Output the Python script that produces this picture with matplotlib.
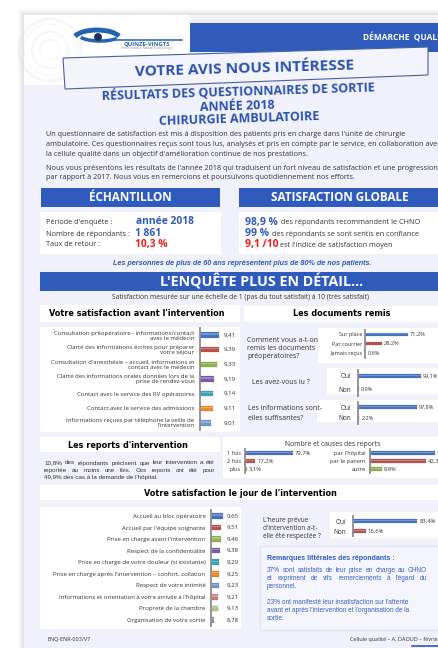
import matplotlib
matplotlib.use('Agg')
import matplotlib.pyplot as plt
from matplotlib.patches import Rectangle, Polygon, Circle, Arc

W, H = 438, 648

avant_labels = ["Consultation préopératoire - informations/contact\navec le médecin",
                "Clarté des informations écrites pour préparer\nvotre séjour",
                "Consultation d'anesthésie – accueil, informations et\ncontact avec le médecin",
                "Clarté des informations orales données lors de la\nprise de rendez-vous",
                "Contact avec le service des RV opératoires",
                "Contact avec le service des admissions",
                "Informations reçues par téléphone la veille de\nl'intervention"]
avant_vals = [9.41, 9.39, 9.33, 9.19, 9.14, 9.11, 9.01]

jour_labels = ["Accueil au bloc opératoire",
               "Accueil par l'équipe soignante",
               "Prise en charge avant l'intervention",
               "Respect de la confidentialité",
               "Prise en charge de votre douleur (si existante)",
               "Prise en charge après l'intervention – confort, collation",
               "Respect de votre intimité",
               "Informations et orientation à votre arrivée à l'hôpital",
               "Propreté de la chambre",
               "Organisation de votre sortie"]
jour_vals = [9.65, 9.51, 9.46, 9.38, 9.29, 9.25, 9.23, 9.21, 9.13, 8.78]

remis_labels = ["Sur place", "Par courrier", "Jamais reçus"]
remis_vals = [71.2, 28.2, 0.6]
oui_non = ["Oui", "Non"]
lu_vals = [99.1, 0.9]
suff_vals = [97.8, 2.2]
heure_vals = [83.4, 16.6]

nb_labels = ["1 fois", "2 fois", "plus"]
nb_vals = [79.7, 17.2, 3.1]
cause_labels = ["par l'hôpital", "par le patient", "autre"]
cause_vals = [49, 42.3, 8.8]

# ---- style ----
BLUE = '#2f5cbc'
TITLE_BLUE = '#2a52ad'
RED = '#ee1c1c'
TEXT = '#333333'
PAGE = '#f1f1fb'
C_BLUE, C_RED, C_GREEN = '#4472c4', '#c0504d', '#8fb54b'
C_PURPLE, C_TEAL, C_ORANGE = '#7a5ba5', '#3aa3bf', '#f28a2a'
C_LBLUE, C_PINK, C_LGREEN, C_LPURPLE = '#6f97d6', '#cf7d7a', '#adc97c', '#9a86c4'

plt.rcParams['font.family'] = ['Open Sans', 'DejaVu Sans']

fig = plt.figure(figsize=(W / 100, H / 100), dpi=100)
fig.patch.set_facecolor('white')
bg = fig.add_axes([0, 0, 1, 1])
bg.set_xlim(0, W)
bg.set_ylim(H, 0)
bg.axis('off')
renderer = fig.canvas.get_renderer()


def box(x0, y0, x1, y1, fc, ec='none', lw=0, z=1):
    bg.add_patch(Rectangle((x0, y0), x1 - x0, y1 - y0, facecolor=fc,
                           edgecolor=ec, linewidth=lw, zorder=z))


def text_width(s, size, **kw):
    t = bg.text(0, 0, s, fontsize=size, **kw)
    w = t.get_window_extent(renderer).width
    t.remove()
    return w


def fit(s, width, **kw):
    # font size that makes s about `width` pixels wide
    return 6.0 * width / text_width(s, 6.0, **kw)


def txt(x, y, s, size, color=TEXT, ha='left', weight='normal', **kw):
    return bg.text(x, y, s, fontsize=size, color=color, ha=ha, va='center',
                   fontweight=weight, zorder=5, **kw)


def justified(x0, x1, y, line, size, **kw):
    words = line.split()
    widths = [text_width(w, size, **kw) for w in words]
    gap = (x1 - x0 - sum(widths)) / (len(words) - 1)
    x = x0
    for w, wd in zip(words, widths):
        bg.text(x, y, w, fontsize=size, ha='left', va='center', zorder=5, **kw)
        x += wd + gap


def sub_axes(x0, y0, x1, y1):
    return fig.add_axes([x0 / W, 1 - y1 / H, (x1 - x0) / W, (y1 - y0) / H])


def pct(v):
    return ('%g' % v).replace('.', ',') + '%'


def score(v):
    return ('%.2f' % v).replace('.', ',')


def hbar(rect, labels, vals, colors, xlim, bar_h, lab_size, val_size,
         fmt=pct, val_column=False, pad=2):
    ax = sub_axes(*rect)
    ax.patch.set_alpha(0)
    ys = list(range(len(vals)))
    ax.barh(ys, [v - xlim[0] for v in vals], left=xlim[0], height=bar_h,
            color=colors, edgecolor='#55555588', linewidth=0.25)
    # light stripe to mimic the cylinder look
    ax.barh([y - bar_h * 0.18 for y in ys], [v - xlim[0] for v in vals],
            left=xlim[0], height=bar_h * 0.25, color='white', alpha=0.25, linewidth=0)
    ax.set_xlim(*xlim)
    ax.set_ylim(len(vals) - 0.5, -0.5)
    ax.set_xticks([])
    ax.set_yticks(ys)
    ax.set_yticklabels(labels, fontsize=lab_size, color=TEXT, linespacing=1.0)
    for t in ax.get_yticklabels():
        t.set_multialignment('right')
    ax.tick_params(axis='y', length=0, pad=pad)
    for s in ['top', 'right', 'bottom']:
        ax.spines[s].set_visible(False)
    ax.spines['left'].set_color('#8c8c8c')
    ax.spines['left'].set_linewidth(1.3)
    for y, v in zip(ys, vals):
        if val_column:
            ax.annotate(fmt(v), (1, y), xycoords=ax.get_yaxis_transform(),
                        xytext=(1.5, 0), textcoords='offset points',
                        va='center', fontsize=val_size, color=TEXT)
        else:
            ax.annotate(fmt(v), (v, y), xytext=(1.5, 0), textcoords='offset points',
                        va='center', fontsize=val_size, color=TEXT)
    return ax


# ---- page + shadow ----
for i, a in enumerate([0.025, 0.035, 0.045]):
    box(24 - 6 + i * 2, 15 - 6 + i * 2, W + 10, H + 10, '#000000', z=0)
    bg.patches[-1].set_alpha(a)
box(24, 15, W + 5, H + 5, PAGE, z=0.5)

# ---- header ----
box(24, 15, 190, 85, '#ffffff', z=1)
for r, lw in [(31, 2.5), (26, 1.0), (18, 1.5), (10, 1.0)]:
    bg.add_patch(Circle((50, 50), r, facecolor='none', edgecolor='#dcdcdc',
                        lw=lw, alpha=0.22, zorder=1.2))
bg.add_patch(Arc((97, 40), 48, 20, theta1=190, theta2=350, color='#2463b0', lw=3.5, zorder=2))
bg.add_patch(Arc((100, 34), 44, 14, theta1=15, theta2=170, color='#2463b0', lw=2.5, zorder=2))
bg.add_patch(Circle((98, 37), 3.2, color='#1a2f5a', zorder=3))
bg.plot([112, 182], [40, 40], color='#2f6fbf', lw=1.2, zorder=2)
txt(147, 43.5, "QUINZE-VINGTS", 4.3, color='#2b5fae', ha='center', weight='bold')
txt(147, 48, "Centre Hospitalier National d'Ophtalmologie", 1.8, color='#888888', ha='center')

box(190, 23, W + 5, 52, BLUE, z=1)
txt(363, 37.5, "DÉMARCHE  QUALITÉ", fit("DÉMARCHE", 47, fontweight='bold'),
    color='white', weight='bold')

bg.add_patch(Polygon([(63, 58), (428, 47), (428, 75), (65, 89)], closed=True,
                     facecolor='#f4f4fd', edgecolor='#4b5f9e', lw=0.8, zorder=3))
s1 = fit("VOTRE AVIS NOUS INTÉRESSE", 219, fontweight='bold')
txt(245, 68.5, "VOTRE AVIS NOUS INTÉRESSE", s1, color=TITLE_BLUE, ha='center',
    weight='bold', rotation=1.7)
s2 = fit("RÉSULTATS DES QUESTIONNAIRES DE SORTIE", 272, fontweight='bold')
txt(238, 92, "RÉSULTATS DES QUESTIONNAIRES DE SORTIE", s2, color=TITLE_BLUE,
    ha='center', weight='bold', rotation=1.8)
txt(237, 106, "ANNÉE 2018", s2, color=TITLE_BLUE, ha='center', weight='bold', rotation=1.8)
txt(239, 119, "CHIRURGIE AMBULATOIRE", s2, color=TITLE_BLUE, ha='center',
    weight='bold', rotation=1.8)

# ---- intro paragraph ----
intro = ["Un questionnaire de satisfaction est mis à disposition des patients pris en charge dans l'unité de chirurgie",
         "ambulatoire. Ces questionnaires reçus sont tous lus, analysés et pris en compte par le service, en collaboration avec",
         "la cellule qualité dans un objectif d'amélioration continue de nos prestations."]
si = fit(intro[2], 262)
for i, line in enumerate(intro):
    txt(46, 135 + i * 9.8, line, si)
intro2 = ["Nous vous présentons les résultats de l'année 2018 qui traduisent un fort niveau de satisfaction et une progression",
          "par rapport à 2017. Nous vous en remercions et poursuivons quotidiennement nos efforts."]
for i, line in enumerate(intro2):
    txt(46, 168 + i * 9.5, line, si)

# ---- échantillon / satisfaction globale ----
sh = fit("SATISFACTION GLOBALE", 139, fontweight='bold')
box(41, 188, 220, 207, BLUE, z=2)
txt(130, 197.5, "ÉCHANTILLON", sh, color='white', ha='center', weight='bold')
box(239, 188, W + 5, 207, BLUE, z=2)
txt(340, 197.5, "SATISFACTION GLOBALE", sh, color='white', ha='center', weight='bold')

box(40, 212, 221, 254, 'white', z=2)
box(239, 212, W + 5, 254, 'white', z=2)
sl = fit("des répondants recommandent le CHNO", 140)
sb = fit("année 2018", 58, fontweight='bold')
txt(46, 223, "Période d'enquête :", sl)
txt(136, 222, "année 2018", sb, color=BLUE, weight='bold')
txt(46, 234, "Nombre de répondants :", sl)
txt(135, 233.5, "1 861", sb, color=BLUE, weight='bold')
txt(46, 245, "Taux de retour :", sl)
txt(135, 245, "10,3 %", sb, color=RED, weight='bold')

txt(245, 222.5, "98,9 %", sb, color=BLUE, weight='bold')
txt(281, 223, "des répondants recommandent le CHNO", sl)
txt(245, 234, "99 %", sb, color=BLUE, weight='bold')
txt(272, 234.5, "des répondants se sont sentis en confiance", sl)
txt(245, 245, "9,1 /10", sb, color=RED, weight='bold')
txt(280, 245.5, "est l'indice de satisfaction moyen", sl)

note = "Les personnes de plus de 60 ans représentent plus de 80% de nos patients."
nkw = dict(fontweight='bold', fontstyle='italic', family='Liberation Sans')
bg.text(242, 263.5, note, fontsize=fit(note, 263, **nkw), color=BLUE, ha='center',
        va='center', zorder=5, **nkw)

# ---- l'enquête plus en détail ----
box(40, 272, W + 5, 291, BLUE, z=2)
txt(262, 281.5, "L'ENQUÊTE PLUS EN DÉTAIL…", fit("L'ENQUÊTE PLUS EN DÉTAIL…", 204, fontweight='bold'),
    color='white', ha='center', weight='bold')
scale_txt = "Satisfaction mesurée sur une échelle de 1 (pas du tout satisfait) à 10 (très satisfait)"
txt(241, 297.5, scale_txt, fit(scale_txt, 258), ha='center')

hkw = dict(fontweight='bold', family='DejaVu Sans')
st = fit("Votre satisfaction le jour de l'intervention", 194, **hkw)

box(40, 305, 240, 322, 'white', z=2)
bg.text(49, 313.5, "Votre satisfaction avant l'intervention", fontsize=st, color='black',
        ha='left', va='center', zorder=5, **hkw)
box(244, 306, W + 5, 322, 'white', z=2)
bg.text(342, 314, "Les documents remis", fontsize=st, color='black',
        ha='center', va='center', zorder=5, **hkw)

box(40, 327, 240, 432, 'white', z=2)
hbar((200, 327.7, 222, 430.3), avant_labels, avant_vals,
     [C_BLUE, C_RED, C_GREEN, C_PURPLE, C_TEAL, C_ORANGE, C_LBLUE],
     (8.5, 9.55), 0.38, 4.3, 4.4, fmt=score, val_column=True, pad=4)

# documents remis
sq = fit("Comment vous a-t-on", 71)
box(318, 328, W + 5, 363, 'white', z=2)
txt(247, 340, "Comment vous a-t-on", sq)
txt(247, 348.5, "remis les documents", sq)
txt(247, 357, "préopératoires?", sq)
hbar((365, 329.5, 425, 357.5), remis_labels, remis_vals, [C_BLUE, C_RED, '#555555'],
     (0, 100), 0.32, 4.0, 4.1, pad=2)

box(327, 368, W + 5, 394, 'white', z=2)
txt(252, 383, "Les avez-vous lu ?", sq)
hbar((358, 369.5, 421.5, 395.5), oui_non, lu_vals, [C_BLUE, C_RED],
     (0, 100), 0.26, 4.7, 4.0, pad=5)

box(317, 400, W + 5, 422, 'white', z=2)
txt(248, 409, "Les informations sont-", sq)
txt(248, 418, "elles suffisantes?", sq)
hbar((358, 401.5, 418, 423.5), oui_non, suff_vals, [C_BLUE, C_RED],
     (0, 100), 0.3, 4.7, 4.0, pad=5)

# ---- reports ----
box(40, 437, 220, 452, 'white', z=2)
bg.text(128, 445, "Les reports d'intervention", fontsize=st, color='black',
        ha='center', va='center', zorder=5, **hkw)
rep = ["10,8% des répondants précisent que leur intervention a été",
       "reportée au moins une fois. Ces reports ont été pour",
       "49,9% des cas à la demande de l'hôpital."]
pkw = dict(family='Liberation Sans', color=TEXT)
sp = fit(rep[0], 166, family='Liberation Sans')
justified(44, 215, 463, rep[0], sp, **pkw)
justified(44, 215, 470.5, rep[1], sp, **pkw)
bg.text(44, 478, rep[2], fontsize=sp, ha='left', va='center', zorder=5, **pkw)

box(223, 437, W + 5, 478, 'white', z=2)
txt(333, 444, "Nombre et causes des reports", fit("Nombre et causes des reports", 96), ha='center')
hbar((245, 449, 305, 473), nb_labels, nb_vals, [C_BLUE, C_RED, C_GREEN],
     (0, 100), 0.42, 4.1, 4.2, pad=3)
hbar((370, 449, 436, 473), cause_labels, cause_vals, [C_BLUE, C_RED, C_GREEN],
     (0, 50), 0.42, 4.1, 4.2, pad=3)

# ---- le jour de l'intervention ----
box(40, 485, W + 5, 500, 'white', z=2)
bg.text(240, 493, "Votre satisfaction le jour de l'intervention", fontsize=st, color='black',
        ha='center', va='center', zorder=5, **hkw)

box(40, 507, 241, 629, 'white', z=2)
hbar((211, 510.2, 224.5, 625.8), jour_labels, jour_vals,
     [C_BLUE, C_RED, C_GREEN, C_PURPLE, C_TEAL, C_ORANGE, C_LBLUE, C_PINK, C_LGREEN, C_LPURPLE],
     (8.5, 9.8), 0.48, 4.3, 4.4, fmt=score, val_column=True, pad=4)

txt(263, 520, "L'heure prévue", 4.7)
txt(263, 528.5, "d'intervention a-t-", 4.7)
txt(263, 537, "elle été respectée ?", 4.7)
box(330, 512, W + 5, 538, 'white', z=2)
hbar((353, 516, 430, 536), oui_non, heure_vals, [C_BLUE, C_RED],
     (0, 100), 0.32, 4.7, 4.2, pad=5)

box(260, 546, W + 5, 630, '#f5f5fd', ec='#e3e4f4', lw=1.0, z=2)
lkw = dict(family='Liberation Sans', fontweight='bold')
bg.text(267, 558, "Remarques littérales des répondants :",
        fontsize=fit("Remarques littérales des répondants :", 131, **lkw), color=BLUE,
        ha='left', va='center', zorder=5, **lkw)
rkw = dict(family='Liberation Sans', color='#3a62c4')
rem = ["37% sont satisfaits de leur prise en charge au CHNO",
       "et expriment de vifs remerciements à l'égard du",
       "personnel."]
rem2 = ["23% ont manifesté leur insatisfaction sur l'attente",
        "avant et après l'intervention et l'organisation de la",
        "sortie."]
sr = fit(rem[0], 155, family='Liberation Sans')
justified(267, 427, 570, rem[0], sr, **rkw)
justified(267, 427, 578, rem[1], sr, **rkw)
bg.text(267, 586, rem[2], fontsize=sr, ha='left', va='center', zorder=5, **rkw)
for i, line in enumerate(rem2):
    bg.text(267, 602 + i * 8, line, fontsize=sr, ha='left', va='center', zorder=5, **rkw)

# ---- footer ----
txt(48, 639, "ENQ-ENR-003/V7", 4.0)
txt(350, 639, "Cellule qualité – A. DAOUD – février 2019",
    fit("Cellule qualité – A. DAOUD – févrie", 88))
bg.plot([412, 440], [646, 646], color=BLUE, lw=1.2, zorder=5)

fig.savefig('out.png', dpi=100, facecolor='white')
